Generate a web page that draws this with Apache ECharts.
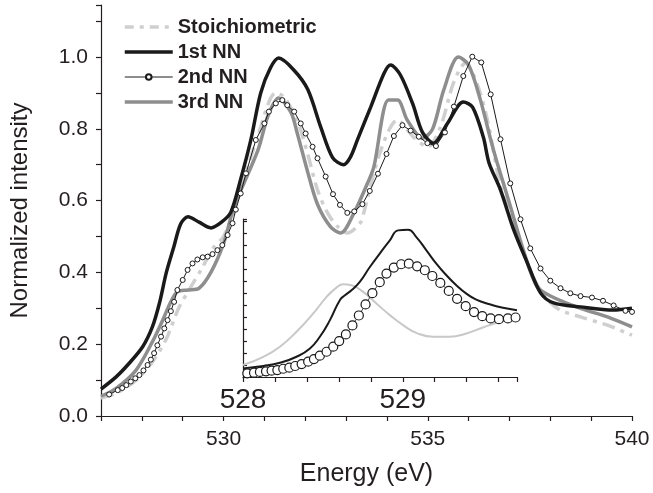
<!DOCTYPE html>
<html>
<head>
<meta charset="utf-8">
<script src="https://cdn.jsdelivr.net/npm/echarts@6/dist/echarts.min.js"></script>
<style>
  html, body { margin: 0; padding: 0; background: #fff; }
  #chart { width: 653px; height: 493px; }
</style>
</head>
<body>
<div id="chart"></div>
<script>
// main panel: [energy eV, normalized intensity]
const stoich = [[527.0,0.05],[527.37,0.063],[527.86,0.10],[528.26,0.151],[528.6,0.215],[528.9,0.30],[529.2,0.36],[529.45,0.407],[529.76,0.47],[530.0,0.50],[530.25,0.57],[530.84,0.78],[531.28,0.90],[531.47,0.89],[531.8,0.825],[532.06,0.73],[532.3,0.63],[532.55,0.565],[532.8,0.527],[533.04,0.51],[533.36,0.54],[533.43,0.565],[533.85,0.74],[534.26,0.825],[534.65,0.777],[535.0,0.75],[535.31,0.805],[535.63,0.928],[535.92,0.983],[536.2,0.928],[536.46,0.825],[536.78,0.64],[537.1,0.54],[537.44,0.426],[537.76,0.35],[538.17,0.30],[538.74,0.276],[539.4,0.253],[540.0,0.225]];

const nn1 = [[527.0,0.075],[527.37,0.109],[527.69,0.147],[528.02,0.193],[528.26,0.249],[528.43,0.314],[528.6,0.40],[528.78,0.47],[528.95,0.535],[529.13,0.555],[529.4,0.54],[529.69,0.524],[529.95,0.54],[530.18,0.568],[530.42,0.66],[530.67,0.77],[530.91,0.90],[531.15,0.97],[531.35,0.997],[531.72,0.964],[532.06,0.91],[532.38,0.805],[532.67,0.72],[532.94,0.70],[533.11,0.722],[533.28,0.77],[533.6,0.86],[533.93,0.955],[534.09,0.978],[534.33,0.95],[534.63,0.87],[534.87,0.79],[535.14,0.76],[535.48,0.815],[535.87,0.875],[536.1,0.86],[536.36,0.777],[536.5,0.705],[536.78,0.63],[537.1,0.52],[537.44,0.426],[537.76,0.343],[538.08,0.315],[538.74,0.304],[539.54,0.295],[540.0,0.30]];

const nn2 = [[527.2,0.06],[527.41,0.072],[527.52,0.078],[527.62,0.086],[527.73,0.096],[527.84,0.105],[527.94,0.114],[528.04,0.127],[528.14,0.142],[528.22,0.157],[528.30,0.175],[528.38,0.197],[528.47,0.221],[528.55,0.244],[528.63,0.267],[528.71,0.292],[528.79,0.318],[528.87,0.351],[529.0,0.379],[529.12,0.407],[529.24,0.425],[529.36,0.436],[529.49,0.442],[529.61,0.444],[529.73,0.451],[529.85,0.462],[529.97,0.476],[530.1,0.504],[530.22,0.537],[530.3,0.575],[530.42,0.62],[530.55,0.676],[530.79,0.769],[531.0,0.815],[531.11,0.848],[531.28,0.871],[531.44,0.88],[531.56,0.866],[531.73,0.848],[531.89,0.815],[532.01,0.787],[532.18,0.75],[532.3,0.718],[532.5,0.667],[532.68,0.618],[532.85,0.588],[533.03,0.566],[533.2,0.57],[533.4,0.59],[533.58,0.627],[533.78,0.675],[533.99,0.73],[534.17,0.78],[534.38,0.81],[534.58,0.795],[534.78,0.778],[534.99,0.76],[535.2,0.752],[535.42,0.79],[535.64,0.862],[535.87,0.947],[536.09,1.001],[536.31,0.985],[536.54,0.896],[536.78,0.771],[537.02,0.648],[537.27,0.548],[537.51,0.467],[537.76,0.411],[538.0,0.377],[538.25,0.356],[538.49,0.342],[538.74,0.334],[539.02,0.33],[539.29,0.321],[539.55,0.308],[539.84,0.293],[540.0,0.29]];

const nn3 = [[527.0,0.055],[527.37,0.077],[527.86,0.128],[528.26,0.207],[528.51,0.267],[528.71,0.318],[528.87,0.346],[529.13,0.351],[529.4,0.356],[529.69,0.40],[530.0,0.48],[530.25,0.58],[530.84,0.74],[531.1,0.84],[531.35,0.886],[531.65,0.846],[531.8,0.79],[532.06,0.68],[532.3,0.59],[532.62,0.527],[532.87,0.51],[533.19,0.565],[533.53,0.65],[533.68,0.694],[534.04,0.88],[534.26,0.88],[534.5,0.824],[534.87,0.774],[535.12,0.80],[535.39,0.908],[535.75,1.0],[536.0,0.978],[536.29,0.88],[536.54,0.77],[536.7,0.705],[537.0,0.593],[537.34,0.462],[537.68,0.36],[538.08,0.33],[538.74,0.30],[539.4,0.276],[540.0,0.248]];

// inset panel (arbitrary units)
const insetCircles = [[528.027,0.31],[528.069,0.36],[528.106,0.42],[528.144,0.47],[528.179,0.53],[528.215,0.58],[528.252,0.69],[528.29,0.78],[528.327,0.92],[528.367,1.08],[528.408,1.28],[528.444,1.5],[528.481,1.78],[528.523,2.11],[528.565,2.53],[528.602,3.0],[528.644,3.56],[528.685,4.31],[528.725,5.14],[528.767,6.06],[528.81,7.0],[528.856,7.92],[528.898,8.64],[528.944,9.14],[528.99,9.42],[529.038,9.47],[529.09,9.25],[529.138,8.92],[529.185,8.44],[529.235,7.86],[529.288,7.19],[529.34,6.53],[529.394,5.92],[529.446,5.42],[529.498,5.08],[529.55,4.89],[529.602,4.83],[529.658,4.89],[529.706,4.97]];

const insetBlack = [[528.0,0.72],[528.127,0.92],[528.231,1.19],[528.335,1.69],[528.419,2.39],[528.481,3.36],[528.544,4.75],[528.606,6.42],[528.638,6.83],[528.679,7.25],[528.731,7.94],[528.794,9.19],[528.856,10.31],[528.919,11.42],[528.971,12.25],[529.033,12.31],[529.085,11.69],[529.148,10.58],[529.21,9.47],[529.273,8.5],[529.335,7.67],[529.398,6.97],[529.46,6.47],[529.544,6.08],[529.627,5.78],[529.715,5.58]];

const insetGrey = [[528.0,1.0],[528.127,1.69],[528.231,2.53],[528.335,3.78],[528.44,5.31],[528.523,6.69],[528.585,7.47],[528.627,7.75],[528.679,7.67],[528.752,7.11],[528.835,6.14],[528.919,5.17],[529.002,4.33],[529.085,3.69],[529.19,3.36],[529.294,3.36],[529.398,3.64],[529.502,4.14],[529.606,4.61],[529.715,5.03]];

const legendNames = ["Stoichiometric", "1st NN", "2nd NN", "3rd NN"];

const font = "'Liberation Sans', Arial, sans-serif";
const ink = "#231f20";
const axisLineStyle = { color: ink, width: 1.2 };

const chart = echarts.init(document.getElementById("chart"), null, { renderer: "canvas" });

const noDot = { opacity: 0 };

chart.setOption({
  animation: false,
  backgroundColor: "#fff",
  textStyle: { fontFamily: font, color: ink },
  legend: {
    data: [
      { name: legendNames[0], itemStyle: noDot, lineStyle: { width: 3.5, color: "#cfcfcf", type: [9, 6, 4, 6] } },
      { name: legendNames[1], itemStyle: noDot, lineStyle: { width: 3.5, color: "#1a1a1a" } },
      { name: legendNames[2], lineStyle: { width: 1, color: "#1a1a1a" } },
      { name: legendNames[3], itemStyle: noDot, lineStyle: { width: 3.5, color: "#8e8e8e" } },
    ],
    orient: "vertical",
    left: 118,
    top: 12,
    align: "left",
    itemWidth: 48,
    itemHeight: 7,
    itemGap: 5,
    textStyle: { fontFamily: font, fontSize: 20, fontWeight: "bold", color: ink, lineHeight: 20 },
  },
  grid: [
    { left: 100, top: 5, right: 21, bottom: 77 },
    { left: 243, top: 219, width: 274, height: 158 },
  ],
  xAxis: [
    {
      gridIndex: 0,
      type: "value",
      min: 527,
      max: 540,
      interval: 1,
      name: "Energy (eV)",
      nameLocation: "middle",
      nameGap: 46,
      nameTextStyle: { fontFamily: font, fontSize: 25, color: ink },
      axisLine: { show: true, onZero: false, lineStyle: axisLineStyle },
      axisTick: { show: true, length: 5, lineStyle: axisLineStyle },
      axisLabel: {
        fontFamily: font,
        fontSize: 21,
        color: ink,
        margin: 13,
        formatter: (v) => (Math.round(v) % 5 === 0 ? String(Math.round(v)) : ""),
      },
      splitLine: { show: false },
    },
    {
      gridIndex: 1,
      type: "value",
      min: 528,
      max: 529.715,
      interval: 0.2,
      axisLine: { show: true, onZero: false, lineStyle: axisLineStyle },
      axisTick: { show: true, length: 5, lineStyle: axisLineStyle },
      axisLabel: {
        fontFamily: font,
        fontSize: 28,
        color: ink,
        margin: 9,
        formatter: (v) => (Math.abs(v - Math.round(v)) < 1e-6 ? String(Math.round(v)) : ""),
      },
      splitLine: { show: false },
    },
  ],
  yAxis: [
    {
      gridIndex: 0,
      type: "value",
      min: 0,
      max: 1.145,
      interval: 0.1,
      name: "Normalized intensity",
      nameLocation: "middle",
      nameGap: 69,
      nameTextStyle: { fontFamily: font, fontSize: 24, color: ink },
      axisLine: { show: true, onZero: false, lineStyle: axisLineStyle },
      axisTick: { show: true, length: 5, lineStyle: axisLineStyle },
      axisLabel: {
        fontFamily: font,
        fontSize: 21,
        color: ink,
        margin: 13,
        formatter: (v) => {
          const t = Math.round(v * 10);
          return t % 2 === 0 && Math.abs(v * 10 - t) < 1e-6 ? (t / 10).toFixed(1) : "";
        },
      },
      splitLine: { show: false },
    },
    {
      gridIndex: 1,
      type: "value",
      min: 0,
      max: 13.2,
      interval: 1,
      axisLine: { show: true, onZero: false, lineStyle: axisLineStyle },
      axisTick: { show: true, inside: true, length: 4, lineStyle: axisLineStyle },
      axisLabel: { show: false },
      splitLine: { show: false },
    },
  ],
  series: [
    {
      name: "Stoichiometric",
      type: "line",
      data: stoich,
      smooth: 0.3,
      symbol: "none",
      z: 2,
      lineStyle: { color: "#cfcfcf", width: 3.5, type: [13, 6, 4, 6] },
      itemStyle: { color: "#cfcfcf" },
    },
    {
      name: "3rd NN",
      type: "line",
      data: nn3,
      smooth: 0.3,
      symbol: "none",
      z: 3,
      lineStyle: { color: "#8e8e8e", width: 3.5 },
      itemStyle: { color: "#8e8e8e" },
    },
    {
      name: "1st NN",
      type: "line",
      data: nn1,
      smooth: 0.3,
      symbol: "none",
      z: 4,
      lineStyle: { color: "#1a1a1a", width: 3.5 },
      itemStyle: { color: "#1a1a1a" },
    },
    {
      name: "2nd NN",
      type: "line",
      data: nn2,
      symbol: "circle",
      symbolSize: 5,
      showAllSymbol: true,
      z: 5,
      lineStyle: { color: "#1a1a1a", width: 1 },
      itemStyle: { color: "#fff", borderColor: "#1a1a1a", borderWidth: 1 },
    },
    {
      name: "inset grey",
      type: "line",
      xAxisIndex: 1,
      yAxisIndex: 1,
      data: insetGrey,
      smooth: true,
      symbol: "none",
      z: 6,
      lineStyle: { color: "#c8c8c8", width: 2 },
    },
    {
      name: "inset black",
      type: "line",
      xAxisIndex: 1,
      yAxisIndex: 1,
      data: insetBlack,
      smooth: true,
      symbol: "none",
      z: 7,
      lineStyle: { color: "#1a1a1a", width: 2 },
    },
    {
      name: "inset circles",
      type: "line",
      xAxisIndex: 1,
      yAxisIndex: 1,
      data: insetCircles,
      symbol: "circle",
      symbolSize: 9,
      showAllSymbol: true,
      z: 8,
      lineStyle: { color: "#1a1a1a", width: 0.8 },
      itemStyle: { color: "#fff", borderColor: "#1a1a1a", borderWidth: 1.2 },
    },
  ],
});
</script>
</body>
</html>
